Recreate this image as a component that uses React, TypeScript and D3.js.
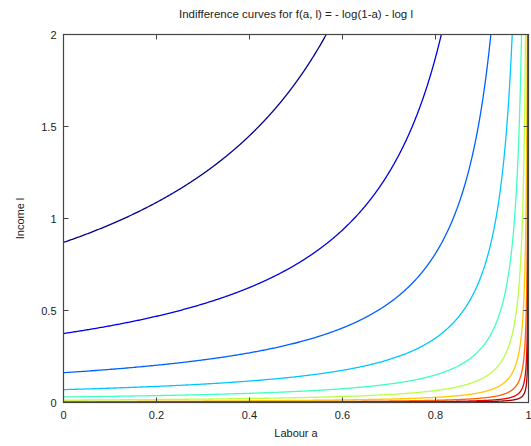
import React from "react";
import * as d3 from "d3";

const W = 531;
const H = 446;
const titleText = "Indifference curves for f(a, l) = - log(1-a) - log l";
const xLabel = "Labour a";
const yLabel = "Income l";
const xTicks = [0, 0.2, 0.4, 0.6, 0.8, 1];
const yTicks = [0, 0.5, 1, 1.5, 2];
const yTickLabels = ["0", "0.5", "1", "1.5", "2"];
const xTickLabels = ["0", "0.2", "0.4", "0.6", "0.8", "1"];
// income l at a = 0 for each indifference curve (l * (1 - a) = level)
const levels = [0.87, 0.375, 0.162, 0.07, 0.03, 0.013, 0.0056, 0.0024, 0.00104, 0.00045];
const colors = ["#00008f", "#0000e0", "#0060ff", "#00c8ff", "#40ffc0", "#b8ff48", "#ffc800", "#ff6400", "#e80000", "#a00000"];

const M = { left: 63.5, right: 528.5, top: 34.5, bottom: 402.5 };

export default function App() {
  const x = d3.scaleLinear().domain([0, 1]).range([M.left, M.right]);
  const y = d3.scaleLinear().domain([0, 2]).range([M.bottom, M.top]);
  const line = d3
    .line<[number, number]>()
    .x((d) => x(d[0]))
    .y((d) => y(d[1]));

  const curves = levels.map((k) => {
    const uEnd = Math.log(k / 2);
    const n = 600;
    const pts: [number, number][] = [];
    for (let i = 0; i <= n; i++) {
      const u = (uEnd * i) / n;
      const oneMinusA = Math.exp(u);
      const a = 1 - oneMinusA;
      pts.push([a, k / oneMinusA]);
    }
    return pts;
  });

  const font = "'Liberation Sans', Arial, Helvetica, sans-serif";
  const axisColor = "#444";
  const tickLen = 5;

  return (
    <svg
      width={W}
      height={H}
      style={{ position: "absolute", left: 0, top: 0, background: "#fff" }}
      fontFamily={font}
    >
      <defs>
        <clipPath id="plotclip">
          <rect x={M.left} y={M.top} width={M.right - M.left} height={M.bottom - M.top} />
        </clipPath>
      </defs>
      <rect x={0} y={0} width={W} height={H} fill="#fff" />
      <g clipPath="url(#plotclip)">
        {curves.map((pts, i) => (
          <path key={i} d={line(pts) || ""} fill="none" stroke={colors[i]} strokeWidth={1.3} />
        ))}
      </g>
      <rect
        x={M.left}
        y={M.top}
        width={M.right - M.left}
        height={M.bottom - M.top}
        fill="none"
        stroke={axisColor}
        strokeWidth={1.2}
      />
      {xTicks.map((t, i) => (
        <g key={"x" + i}>
          <line x1={x(t)} x2={x(t)} y1={M.bottom} y2={M.bottom - tickLen} stroke={axisColor} />
          <line x1={x(t)} x2={x(t)} y1={M.top} y2={M.top + tickLen} stroke={axisColor} />
          <text x={x(t)} y={M.bottom + 16} fontSize={11} textAnchor="middle" fill="#222">
            {xTickLabels[i]}
          </text>
        </g>
      ))}
      {yTicks.map((t, i) => (
        <g key={"y" + i}>
          <line x1={M.left} x2={M.left + tickLen} y1={y(t)} y2={y(t)} stroke={axisColor} />
          <line x1={M.right} x2={M.right - tickLen} y1={y(t)} y2={y(t)} stroke={axisColor} />
          <text x={M.left - 7} y={y(t) + 4} fontSize={11} textAnchor="end" fill="#222">
            {yTickLabels[i]}
          </text>
        </g>
      ))}
      <text x={(M.left + M.right) / 2} y={18} fontSize={11.5} textAnchor="middle" fill="#222">
        {titleText}
      </text>
      <text x={(M.left + M.right) / 2} y={437} fontSize={11} textAnchor="middle" fill="#222">
        {xLabel}
      </text>
      <text
        transform={`translate(24, ${(M.top + M.bottom) / 2}) rotate(-90)`}
        fontSize={11}
        textAnchor="middle"
        fill="#222"
      >
        {yLabel}
      </text>
    </svg>
  );
}
